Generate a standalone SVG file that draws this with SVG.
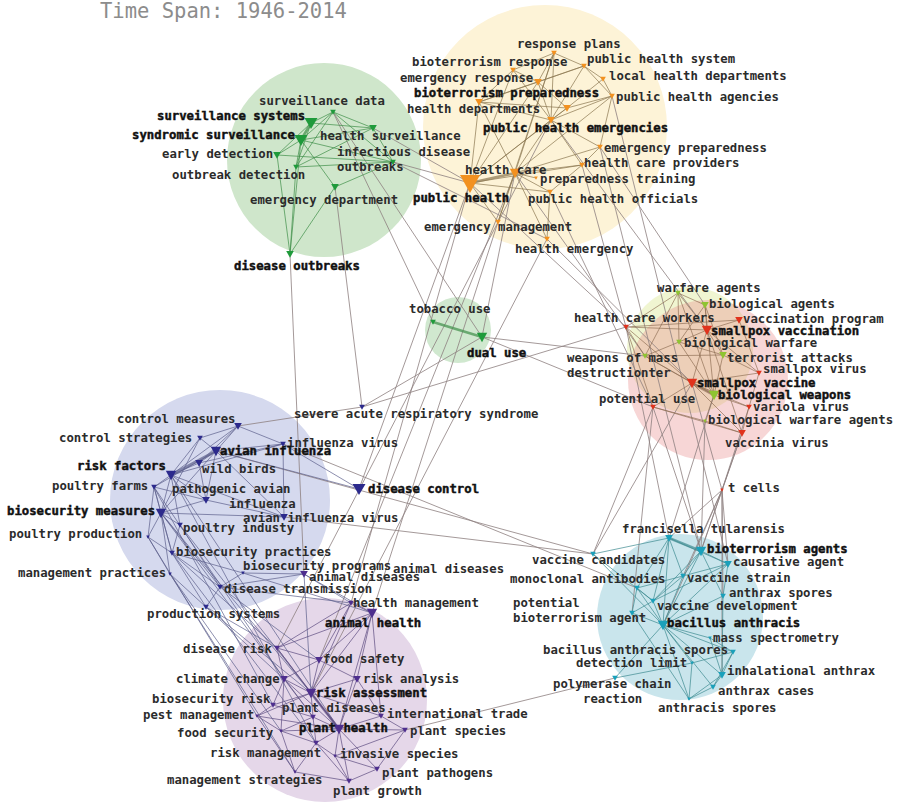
<svg xmlns="http://www.w3.org/2000/svg" xmlns:xlink="http://www.w3.org/1999/xlink" width="900" height="803" viewBox="0 0 900 803">
<style>
  .lb { font-family: "DejaVu Sans Mono", "Liberation Mono", monospace; font-size: 12.3px; font-weight: bold; fill: #2b2b2b; }
  .bd { fill: #111; stroke: #111; stroke-width: .45px; }
  .title { font-family: "DejaVu Sans Mono", "Liberation Mono", monospace; font-size: 20.5px; fill: #8c8c8c; }
  .g { fill: #1f9a3b; } .o { fill: #f29120; } .r { fill: #e0321c; } .y { fill: #8fc431; }
  .b { fill: #2c2a8c; } .p { fill: #4e2e8e; } .c { fill: #1aa0ba; }
  .e { fill: none; stroke-width: 1; stroke-linecap: round; }
  .ex { stroke: #8d8080; stroke-opacity: .8; }
  .eg { stroke: #3f8f48; stroke-opacity: .7; }
  .eo { stroke: #8a7650; stroke-opacity: .7; }
  .er { stroke: #8a6a50; stroke-opacity: .65; }
  .ec { stroke: #3d8a90; stroke-opacity: .7; }
  .eb { stroke: #5c5f8c; stroke-opacity: .7; }
  .ep { stroke: #5d4b80; stroke-opacity: .7; }
  .thick { stroke-width: 2.6; }
</style>
<defs>
  <path id="t1" d="M-1.8,-1.5 L1.8,-1.5 L0,1.8 Z"/>
  <path id="t2" d="M-2.8,-2.2 L2.8,-2.2 L0,2.8 Z"/>
  <path id="t3" d="M-3.8,-3 L3.8,-3 L0,3.8 Z"/>
  <path id="t4" d="M-5.2,-4.2 L5.2,-4.2 L0,5.2 Z"/>
  <path id="t4b" d="M-6.5,-5 L6.5,-5 L0,6 Z"/>
  <path id="t5" d="M-10,-8 L10,-8 L0,10 Z"/>
</defs>

<rect width="900" height="803" fill="#ffffff"/>
<text class="title" x="100" y="18">Time Span: 1946-2014</text>

<!-- community halos -->
<g id="clusters">
  <circle cx="324" cy="160" r="97" fill="#cfe6cb"/>
  <circle cx="545" cy="127" r="122" fill="#fdf3d7"/>
  <circle cx="458" cy="330" r="33" fill="#d0e8cf"/>
  <circle cx="690" cy="350" r="63" fill="#d4e27a" fill-opacity=".35"/>
  <circle cx="708" cy="380" r="80" fill="#e98a8a" fill-opacity=".35"/>
  <circle cx="220" cy="500" r="110" fill="#d5d9ee"/>
  <circle cx="325" cy="700" r="102" fill="#e5d7e9"/>
  <circle cx="680" cy="617" r="83" fill="#c9e5ec"/>
</g>

<g id="connectors">
  <!-- links between communities -->
  <path class="e ex" d="M373 128L470 183M393 162L470 183M393 162L547 239M333 112L433 322M333 112L482 337M335 187L362 407M290 254L304 574
    M470 183L359 489M498 222L372 613M547 239L311 693M515 173L319 660M470 183L351 603M551 120L277 648M515 173L482 337
    M551 120L707 330M582 165L626 327M600 147L705 305M470 183L626 327M515 173L645 356M600 147L701 551M612 96L728 564
    M547 239L692 383M550 192L653 407M482 337L645 356M482 337L653 407M362 407L626 327M362 407L482 337M238 426L362 407
    M722 490L742 433M722 490L749 407M722 490L692 383M722 490L701 551M722 490L728 564M722 490L669 538M722 490L683 576
    M722 490L723 596M722 490L722 675M722 490L663 625M653 407L701 551M692 383L593 554M626 327L669 538M653 407L632 613
    M705 421L701 551M714 395L669 538M742 433L701 551M653 407L593 554M216 451L593 554M284 517L593 554M283 444L637 588
    M405 730L615 678"/>
  <!-- surveillance community -->
  <path class="e eg" d="M333 112L311 123M333 112L301 140M333 112L373 128M333 112L296 167M333 112L393 162M311 123L373 128
    M311 123L277 155M311 123L296 167M301 140L277 155M301 140L373 128M301 140L296 167M301 140L335 187M301 140L393 162
    M301 140L290 254M277 155L393 162M277 155L290 254M296 167L393 162M296 167L373 128M296 167L290 254M335 187L290 254
    M335 187L393 162M373 128L393 162"/>
  <path class="e eg thick" d="M311 123L301 140M433 322L482 337"/>
  <!-- public health community -->
  <path class="e eo" d="M554 53L513 70M554 53L538 82M554 53L584 66M554 53L551 120M554 53L515 173M554 53L498 222
    M513 70L538 82M513 70L551 120M513 70L479 102M513 70L470 183M584 66L603 79M584 66L538 82M584 66L551 120M584 66L612 96
    M584 66L479 102M538 82L567 108M538 82L479 102M538 82L551 120M538 82L470 183M603 79L612 96M603 79L567 108
    M567 108L551 120M567 108L612 96M567 108L479 102M567 108L470 183M479 102L551 120M479 102L470 183M479 102L515 173
    M551 120L470 183M551 120L515 173M551 120L600 147M551 120L582 165M551 120L612 96M612 96L600 147M612 96L515 173
    M600 147L582 165M515 173L582 165M515 173L550 192M515 173L498 222M515 173L547 239M582 165L470 183M582 165L550 192
    M470 183L498 222M470 183L550 192M550 192L547 239M536 178L515 173M600 147L515 173"/>
  <path class="e eo thick" d="M515 173L470 183"/>
  <!-- biological weapons / smallpox community -->
  <path class="e er" d="M678 293L705 305M678 293L679 342M678 293L645 356M678 293L707 330M678 293L714 395M678 293L626 327
    M705 305L679 342M705 305L707 330M705 305L714 395M705 305L723 355M626 327L739 320M626 327L707 330M626 327L692 383
    M626 327L645 356M626 327L653 407M739 320L707 330M739 320L759 373M707 330L692 383M707 330L679 342M707 330L723 355
    M707 330L759 373M707 330L742 433M679 342L714 395M679 342L645 356M679 342L723 355M645 356L723 355M645 356L714 395
    M645 356L692 383M723 355L714 395M723 355L759 373M759 373L692 383M759 373L749 407M692 383L749 407M692 383L742 433
    M692 383L653 407M714 395L705 421M714 395L749 407M653 407L705 421M653 407L742 433M749 407L742 433M705 421L742 433"/>
  <path class="e er thick" d="M692 383L714 395"/>
  <!-- anthrax community -->
  <path class="e ec" d="M669 538L683 576M669 538L653 601M669 538L663 625M669 538L637 588M669 538L728 564M669 538L593 554
    M701 551L728 564M701 551L683 576M701 551L663 625M701 551L723 596M701 551L653 601M728 564L683 576M728 564L653 601
    M728 564L723 596M728 564L663 625M683 576L653 601M683 576L637 588M683 576L663 625M637 588L653 601M637 588L663 625
    M637 588L632 613M723 596L663 625M723 596L722 675M653 601L663 625M653 601L632 613M632 613L663 625M663 625L710 638
    M663 625L733 652M663 625L692 663M663 625L722 675M663 625L713 687M663 625L689 699M663 625L615 678M710 638L733 652
    M710 638L722 675M733 652L722 675M733 652L713 687M733 652L692 663M692 663L615 678M692 663L689 699M722 675L713 687
    M722 675L689 699M713 687L689 699M632 613L689 699M593 554L663 625M593 554L653 601"/>
  <path class="e ec thick" d="M669 538L701 551"/>
  <!-- avian influenza / biosecurity community -->
  <path class="e eb" d="M238 426L200 438M238 426L216 451M238 426L283 444M238 426L171 475M238 426L199 463M200 438L216 451
    M200 438L171 475M200 438L161 513M283 444L216 451M283 444L199 463M283 444L284 517M283 444L171 475M216 451L199 463
    M216 451L154 487M216 451L161 513M216 451L206 500M216 451L284 517M216 451L359 489M199 463L171 475M199 463L206 500
    M171 475L154 487M171 475L161 513M171 475L206 500M171 475L284 517M171 475L180 525M154 487L161 513M154 487L148 537
    M154 487L172 553M154 487L206 500M206 500L161 513M206 500L284 517M161 513L180 525M161 513L148 537M161 513L172 553
    M161 513L170 574M161 513L220 587M161 513L284 517M180 525L220 587M180 525L172 553M148 537L170 574M148 537L172 553
    M172 553L220 587M172 553L243 573M172 553L206 607M170 574L206 607M220 587L243 573M220 587L304 574M243 573L304 574
    M220 587L206 607M283 444L359 489"/>
  <path class="e eb thick" d="M216 451L171 475"/>
  <!-- links from biosecurity into plant and animal health -->
  <path class="e eb" d="M220 587L351 603M243 573L372 613M206 607L277 648M206 607L311 693M206 607L284 679M161 513L311 693
    M171 475L339 729M154 487L284 679M148 537L257 716M170 574L281 731M172 553L316 743M180 525L311 693M161 513L313 717
    M170 574L295 772M172 553L277 648M220 587L319 660M171 475L316 743M154 487L273 705M304 574L351 603M304 574L372 613
    M304 574L311 693"/>
  <!-- plant and animal health community -->
  <path class="e ep" d="M351 603L372 613M351 603L277 648M351 603L319 660M351 603L311 693M372 613L277 648M372 613L319 660
    M372 613L357 679M372 613L311 693M372 613L339 729M372 613L381 716M277 648L284 679M277 648L319 660M277 648L311 693
    M319 660L357 679M319 660L311 693M319 660L284 679M357 679L311 693M357 679L381 716M357 679L339 729M284 679L311 693
    M284 679L313 717M284 679L273 705M284 679L281 731M311 693L313 717M311 693L339 729M311 693L381 716M311 693L273 705
    M311 693L257 716M273 705L313 717M273 705L257 716M313 717L339 729M313 717L281 731M313 717L316 743M257 716L281 731
    M257 716L339 729M257 716L295 772M339 729L405 730M339 729L381 716M339 729L281 731M339 729L316 743M339 729L335 756
    M339 729L377 769M339 729L349 781M405 730L381 716M405 730L335 756M405 730L377 769M281 731L316 743M281 731L295 772
    M316 743L335 756M316 743L295 772M316 743L349 781M335 756L377 769M335 756L349 781M377 769L349 781M295 772L349 781
    M284 679L339 729M277 648L339 729"/>
  <path class="e ep thick" d="M311 693L339 729"/>
</g>

<!-- surveillance community -->
<g id="n-surveillance-data"><use href="#t2" x="333" y="112" class="g"/><text class="lb" x="259" y="105">surveillance data</text></g>
<g id="n-surveillance-systems"><use href="#t4b" x="311" y="123" class="g"/><text class="lb bd" x="157" y="120">surveillance systems</text></g>
<g id="n-syndromic-surveillance"><use href="#t4b" x="301" y="140" class="g"/><text class="lb bd" x="132" y="139">syndromic surveillance</text></g>
<g id="n-health-surveillance"><use href="#t3" x="373" y="128" class="g"/><text class="lb" x="320" y="140">health surveillance</text></g>
<g id="n-early-detection"><use href="#t3" x="277" y="155" class="g"/><text class="lb" x="162" y="158">early detection</text></g>
<g id="n-infectious-disease"><use href="#t2" x="393" y="162" class="g"/><text class="lb" x="337" y="156">infectious disease</text></g>
<g id="n-outbreaks"><use href="#t1" x="393" y="163" class="g"/><text class="lb" x="337" y="171">outbreaks</text></g>
<g id="n-outbreak-detection"><use href="#t2" x="296" y="167" class="g"/><text class="lb" x="172" y="179">outbreak detection</text></g>
<g id="n-emergency-department"><use href="#t3" x="335" y="187" class="g"/><text class="lb" x="250" y="204">emergency department</text></g>
<g id="n-disease-outbreaks"><use href="#t3" x="290" y="254" class="g"/><text class="lb bd" x="234" y="270">disease outbreaks</text></g>

<!-- public health community -->
<g id="n-response-plans"><use href="#t2" x="554" y="53" class="o"/><text class="lb" x="517" y="48">response plans</text></g>
<g id="n-bioterrorism-response"><use href="#t2" x="513" y="70" class="o"/><text class="lb" x="412" y="66">bioterrorism response</text></g>
<g id="n-public-health-system"><use href="#t2" x="584" y="66" class="o"/><text class="lb" x="587" y="63">public health system</text></g>
<g id="n-emergency-response"><use href="#t3" x="538" y="82" class="o"/><text class="lb" x="400" y="82">emergency response</text></g>
<g id="n-local-health-departments"><use href="#t2" x="603" y="79" class="o"/><text class="lb" x="609" y="80">local health departments</text></g>
<g id="n-bioterrorism-preparedness"><use href="#t3" x="567" y="108" class="o"/><text class="lb bd" x="414" y="97">bioterrorism preparedness</text></g>
<g id="n-public-health-agencies"><use href="#t2" x="612" y="96" class="o"/><text class="lb" x="616" y="101">public health agencies</text></g>
<g id="n-health-departments"><use href="#t3" x="479" y="102" class="o"/><text class="lb" x="407" y="113">health departments</text></g>
<g id="n-public-health-emergencies"><use href="#t3" x="551" y="120" class="o"/><text class="lb bd" x="483" y="132">public health emergencies</text></g>
<g id="n-emergency-preparedness"><use href="#t2" x="600" y="147" class="o"/><text class="lb" x="604" y="152">emergency preparedness</text></g>
<g id="n-health-care"><use href="#t4" x="515" y="173" class="o"/><text class="lb" x="465" y="174">health care</text></g>
<g id="n-health-care-providers"><use href="#t2" x="582" y="165" class="o"/><text class="lb" x="584" y="167">health care providers</text></g>
<g id="n-preparedness-training"><use href="#t1" x="536" y="178" class="o"/><text class="lb" x="540" y="183">preparedness training</text></g>
<g id="n-public-health-officials"><use href="#t2" x="550" y="192" class="o"/><text class="lb" x="528" y="203">public health officials</text></g>
<g id="n-public-health"><use href="#t5" x="470" y="183" class="o"/><text class="lb bd" x="413" y="202">public health</text></g>
<g id="n-emergency-management"><use href="#t2" x="498" y="222" class="o"/><text class="lb" x="424" y="231">emergency management</text></g>
<g id="n-health-emergency"><use href="#t2" x="547" y="239" class="o"/><text class="lb" x="515" y="253">health emergency</text></g>

<!-- tobacco / dual use -->
<g id="n-tobacco-use"><use href="#t2" x="433" y="322" class="g"/><text class="lb" x="409" y="313">tobacco use</text></g>
<g id="n-dual-use"><use href="#t4" x="482" y="337" class="g"/><text class="lb bd" x="467" y="357">dual use</text></g>

<!-- smallpox / biological weapons community -->
<g id="n-warfare-agents"><use href="#t2" x="678" y="293" class="y"/><text class="lb" x="657" y="292">warfare agents</text></g>
<g id="n-biological-agents"><use href="#t3" x="705" y="305" class="y"/><text class="lb" x="709" y="308">biological agents</text></g>
<g id="n-health-care-workers"><use href="#t2" x="626" y="327" class="r"/><text class="lb" x="574" y="322">health care workers</text></g>
<g id="n-vaccination-program"><use href="#t3" x="739" y="320" class="r"/><text class="lb" x="743" y="323">vaccination program</text></g>
<g id="n-smallpox-vaccination"><use href="#t4" x="707" y="330" class="r"/><text class="lb bd" x="711" y="335">smallpox vaccination</text></g>
<g id="n-biological-warfare"><use href="#t2" x="679" y="342" class="y"/><text class="lb" x="684" y="347">biological warfare</text></g>
<g id="n-weapons-of-mass-destruction"><use href="#t2" x="645" y="356" class="y"/><text class="lb" x="567" y="362">weapons of mass</text><text class="lb" x="567" y="377">destructionter</text></g>
<g id="n-terrorist-attacks"><use href="#t3" x="723" y="355" class="y"/><text class="lb" x="727" y="362">terrorist attacks</text></g>
<g id="n-smallpox-virus"><use href="#t2" x="759" y="373" class="r"/><text class="lb" x="763" y="373">smallpox virus</text></g>
<g id="n-smallpox-vaccine"><use href="#t4" x="692" y="383" class="r"/><text class="lb bd" x="697" y="387">smallpox vaccine</text></g>
<g id="n-biological-weapons"><use href="#t4" x="714" y="395" class="y"/><text class="lb bd" x="718" y="399">biological weapons</text></g>
<g id="n-potential-use"><use href="#t2" x="653" y="407" class="r"/><text class="lb" x="599" y="403">potential use</text></g>
<g id="n-variola-virus"><use href="#t2" x="749" y="407" class="r"/><text class="lb" x="753" y="411">variola virus</text></g>
<g id="n-biological-warfare-agents"><use href="#t1" x="705" y="421" class="y"/><text class="lb" x="708" y="424">biological warfare agents</text></g>
<g id="n-vaccinia-virus"><use href="#t3" x="742" y="433" class="r"/><text class="lb" x="725" y="447">vaccinia virus</text></g>
<g id="n-t-cells"><use href="#t1" x="722" y="490" class="r"/><text class="lb" x="728" y="492">t cells</text></g>

<!-- anthrax community -->
<g id="n-francisella-tularensis"><use href="#t3" x="669" y="538" class="c"/><text class="lb" x="622" y="533">francisella tularensis</text></g>
<g id="n-bioterrorism-agents"><use href="#t4" x="701" y="551" class="c"/><text class="lb bd" x="707" y="553">bioterrorism agents</text></g>
<g id="n-vaccine-candidates"><use href="#t2" x="593" y="554" class="c"/><text class="lb" x="532" y="564">vaccine candidates</text></g>
<g id="n-causative-agent"><use href="#t3" x="728" y="564" class="c"/><text class="lb" x="733" y="566">causative agent</text></g>
<g id="n-vaccine-strain"><use href="#t2" x="683" y="576" class="c"/><text class="lb" x="687" y="582">vaccine strain</text></g>
<g id="n-monoclonal-antibodies"><use href="#t2" x="637" y="588" class="c"/><text class="lb" x="510" y="583">monoclonal antibodies</text></g>
<g id="n-anthrax-spores"><use href="#t2" x="723" y="596" class="c"/><text class="lb" x="729" y="597">anthrax spores</text></g>
<g id="n-vaccine-development"><use href="#t2" x="653" y="601" class="c"/><text class="lb" x="657" y="610">vaccine development</text></g>
<g id="n-potential-bioterrorism-agent"><use href="#t2" x="632" y="613" class="c"/><text class="lb" x="513" y="607">potential</text><text class="lb" x="513" y="622">bioterrorism agent</text></g>
<g id="n-bacillus-anthracis"><use href="#t4" x="663" y="625" class="c"/><text class="lb bd" x="667" y="627">bacillus anthracis</text></g>
<g id="n-mass-spectrometry"><use href="#t1" x="710" y="638" class="c"/><text class="lb" x="713" y="642">mass spectrometry</text></g>
<g id="n-bacillus-anthracis-spores"><use href="#t2" x="733" y="652" class="c"/><text class="lb" x="543" y="654">bacillus anthracis spores</text></g>
<g id="n-detection-limit"><use href="#t1" x="692" y="663" class="c"/><text class="lb" x="576" y="667">detection limit</text></g>
<g id="n-inhalational-anthrax"><use href="#t3" x="722" y="675" class="c"/><text class="lb" x="727" y="675">inhalational anthrax</text></g>
<g id="n-polymerase-chain-reaction"><use href="#t2" x="615" y="678" class="c"/><text class="lb" x="553" y="688">polymerase chain</text><text class="lb" x="583" y="703">reaction</text></g>
<g id="n-anthrax-cases"><use href="#t2" x="713" y="687" class="c"/><text class="lb" x="718" y="695">anthrax cases</text></g>
<g id="n-anthracis-spores"><use href="#t1" x="689" y="699" class="c"/><text class="lb" x="658" y="712">anthracis spores</text></g>

<!-- avian influenza / biosecurity community -->
<g id="n-severe-acute-respiratory-syndrome"><use href="#t2" x="362" y="407" class="b"/><text class="lb" x="294" y="418">severe acute respiratory syndrome</text></g>
<g id="n-control-measures"><use href="#t3" x="238" y="426" class="b"/><text class="lb" x="117" y="423">control measures</text></g>
<g id="n-control-strategies"><use href="#t2" x="200" y="438" class="b"/><text class="lb" x="59" y="442">control strategies</text></g>
<g id="n-influenza-virus"><use href="#t2" x="283" y="444" class="b"/><text class="lb" x="287" y="447">influenza virus</text></g>
<g id="n-avian-influenza"><use href="#t4" x="216" y="451" class="b"/><text class="lb bd" x="220" y="455">avian influenza</text></g>
<g id="n-wild-birds"><use href="#t3" x="199" y="463" class="b"/><text class="lb" x="202" y="473">wild birds</text></g>
<g id="n-risk-factors"><use href="#t4" x="171" y="475" class="b"/><text class="lb bd" x="77" y="470">risk factors</text></g>
<g id="n-poultry-farms"><use href="#t2" x="154" y="487" class="b"/><text class="lb" x="52" y="490">poultry farms</text></g>
<g id="n-pathogenic-avian-influenza"><use href="#t3" x="206" y="500" class="b"/><text class="lb" x="172" y="493">pathogenic avian</text><text class="lb" x="229" y="508">influenza</text></g>
<g id="n-biosecurity-measures"><use href="#t4" x="161" y="513" class="b"/><text class="lb bd" x="7" y="515">biosecurity measures</text></g>
<g id="n-avian-influenza-virus"><use href="#t3" x="284" y="517" class="b"/><text class="lb" x="243" y="522">avian influenza virus</text></g>
<g id="n-poultry-industy"><use href="#t2" x="180" y="525" class="b"/><text class="lb" x="183" y="532">poultry industy</text></g>
<g id="n-poultry-production"><use href="#t1" x="148" y="537" class="b"/><text class="lb" x="9" y="538">poultry production</text></g>
<g id="n-biosecurity-practices"><use href="#t2" x="172" y="553" class="b"/><text class="lb" x="176" y="556">biosecurity practices</text></g>
<g id="n-biosecurity-programs"><use href="#t1" x="243" y="573" class="b"/><text class="lb" x="243" y="570">biosecurity programs</text></g>
<g id="n-animal-diseases"><use href="#t3" x="304" y="574" class="p"/><text class="lb" x="309" y="581">animal diseases</text><text class="lb" x="393" y="573">animal diseases</text></g>
<g id="n-management-practices"><use href="#t1" x="170" y="574" class="b"/><text class="lb" x="18" y="577">management practices</text></g>
<g id="n-disease-transmission"><use href="#t2" x="220" y="587" class="b"/><text class="lb" x="224" y="593">disease transmission</text></g>
<g id="n-disease-control"><use href="#t4b" x="359" y="489" class="b"/><text class="lb bd" x="368" y="493">disease control</text></g>
<g id="n-production-systems"><use href="#t2" x="206" y="607" class="b"/><text class="lb" x="147" y="618">production systems</text></g>

<!-- plant and animal health community -->
<g id="n-health-management"><use href="#t2" x="351" y="603" class="p"/><text class="lb" x="353" y="607">health management</text></g>
<g id="n-animal-health"><use href="#t4" x="372" y="613" class="p"/><text class="lb bd" x="325" y="627">animal health</text></g>
<g id="n-disease-risk"><use href="#t2" x="277" y="648" class="p"/><text class="lb" x="183" y="653">disease risk</text></g>
<g id="n-food-safety"><use href="#t3" x="319" y="660" class="p"/><text class="lb" x="323" y="663">food safety</text></g>
<g id="n-risk-analysis"><use href="#t3" x="357" y="679" class="p"/><text class="lb" x="363" y="683">risk analysis</text></g>
<g id="n-climate-change"><use href="#t3" x="284" y="679" class="p"/><text class="lb" x="176" y="683">climate change</text></g>
<g id="n-risk-assessment"><use href="#t4" x="311" y="693" class="p"/><text class="lb bd" x="316" y="697">risk assessment</text></g>
<g id="n-biosecurity-risk"><use href="#t2" x="273" y="705" class="p"/><text class="lb" x="152" y="703">biosecurity risk</text></g>
<g id="n-plant-diseases"><use href="#t2" x="313" y="717" class="p"/><text class="lb" x="282" y="712">plant diseases</text></g>
<g id="n-international-trade"><use href="#t2" x="381" y="716" class="p"/><text class="lb" x="387" y="718">international trade</text></g>
<g id="n-pest-management"><use href="#t1" x="257" y="716" class="p"/><text class="lb" x="143" y="719">pest management</text></g>
<g id="n-plant-health"><use href="#t4" x="339" y="729" class="p"/><text class="lb bd" x="299" y="732">plant health</text></g>
<g id="n-plant-species"><use href="#t2" x="405" y="730" class="p"/><text class="lb" x="410" y="735">plant species</text></g>
<g id="n-food-security"><use href="#t1" x="281" y="731" class="p"/><text class="lb" x="177" y="737">food security</text></g>
<g id="n-risk-management"><use href="#t2" x="316" y="743" class="p"/><text class="lb" x="210" y="757">risk management</text></g>
<g id="n-invasive-species"><use href="#t1" x="335" y="756" class="p"/><text class="lb" x="340" y="758">invasive species</text></g>
<g id="n-plant-pathogens"><use href="#t2" x="377" y="769" class="p"/><text class="lb" x="382" y="777">plant pathogens</text></g>
<g id="n-management-strategies"><use href="#t1" x="295" y="772" class="p"/><text class="lb" x="167" y="784">management strategies</text></g>
<g id="n-plant-growth"><use href="#t2" x="349" y="781" class="p"/><text class="lb" x="333" y="795">plant growth</text></g>
</svg>
